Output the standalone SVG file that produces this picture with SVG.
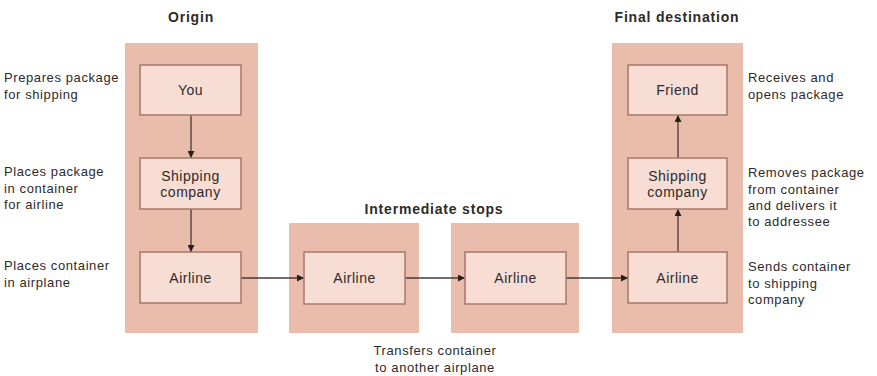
<svg xmlns="http://www.w3.org/2000/svg" width="877" height="376" viewBox="0 0 877 376">
<style>
.panel{fill:#eabcab}
.box{fill:#f7ddd3;stroke:#a87868;stroke-width:1.5}
.t{font-family:"Liberation Sans",Arial,sans-serif;fill:#2e2a2a}
.title{font-size:14px;font-weight:bold;text-anchor:middle;letter-spacing:0.8px}
.lbl{font-size:14px;text-anchor:middle;letter-spacing:0.5px}
.note{font-size:13px;letter-spacing:0.6px}
.c{stroke:#4a3a36;stroke-width:1.3;fill:none;marker-end:url(#ah)}
</style>
<defs>
<marker id="ah" viewBox="0 0 10 10" refX="10" refY="5" markerWidth="7" markerHeight="7" orient="auto" markerUnits="userSpaceOnUse">
<path d="M0,0 L10,5 L0,10 z" fill="#2a1e1c"/>
</marker>
</defs>
<rect width="877" height="376" fill="#fff"/>
<g id="panels">
<rect class="panel" x="125" y="43" width="133" height="290"/>
<rect class="panel" x="289" y="223" width="130" height="110"/>
<rect class="panel" x="451" y="223" width="128" height="110"/>
<rect class="panel" x="612" y="43" width="131" height="290"/>
</g>
<g id="titles">
<text class="t title" x="191" y="22">Origin</text>
<text class="t title" x="434" y="214">Intermediate stops</text>
<text class="t title" x="677" y="22">Final destination</text>
</g>
<g id="connectors">
<line class="c" x1="191" y1="115" x2="191" y2="158"/>
<line class="c" x1="191" y1="209" x2="191" y2="252"/>
<line class="c" x1="241" y1="278" x2="304" y2="278"/>
<line class="c" x1="405" y1="278" x2="465" y2="278"/>
<line class="c" x1="566" y1="278" x2="628" y2="278"/>
<line class="c" x1="678" y1="252" x2="678" y2="209"/>
<line class="c" x1="678" y1="158" x2="678" y2="115"/>
</g>
<g id="you"><rect class="box" x="140" y="65" width="101" height="50"/><text class="t lbl" x="190.5" y="95">You</text></g>
<g id="shipping1"><rect class="box" x="140" y="158" width="101" height="51"/><text class="t lbl" x="190.5" y="181">Shipping</text><text class="t lbl" x="190.5" y="197">company</text></g>
<g id="airline1"><rect class="box" x="140" y="252" width="101" height="51"/><text class="t lbl" x="190.5" y="283">Airline</text></g>
<g id="airline2"><rect class="box" x="304" y="252" width="101" height="52"/><text class="t lbl" x="354.5" y="283">Airline</text></g>
<g id="airline3"><rect class="box" x="465" y="252" width="101" height="52"/><text class="t lbl" x="515.5" y="283">Airline</text></g>
<g id="airline4"><rect class="box" x="628" y="252" width="99" height="51"/><text class="t lbl" x="677.5" y="283">Airline</text></g>
<g id="shipping2"><rect class="box" x="628" y="158" width="99" height="51"/><text class="t lbl" x="677.5" y="181">Shipping</text><text class="t lbl" x="677.5" y="197">company</text></g>
<g id="friend"><rect class="box" x="628" y="65" width="99" height="50"/><text class="t lbl" x="677.5" y="95">Friend</text></g>
<g id="notes">
<text class="t note" x="4" y="82">Prepares package</text><text class="t note" x="4" y="99">for shipping</text>
<text class="t note" x="4" y="176">Places package</text><text class="t note" x="4" y="193">in container</text><text class="t note" x="4" y="209">for airline</text>
<text class="t note" x="4" y="270">Places container</text><text class="t note" x="4" y="287">in airplane</text>
<text class="t note" x="748" y="82">Receives and</text><text class="t note" x="748" y="99">opens package</text>
<text class="t note" x="748" y="177">Removes package</text><text class="t note" x="748" y="194">from container</text><text class="t note" x="748" y="210">and delivers it</text><text class="t note" x="748" y="226">to addressee</text>
<text class="t note" x="748" y="271">Sends container</text><text class="t note" x="748" y="288">to shipping</text><text class="t note" x="748" y="304">company</text>
<text class="t note" x="435" y="355" text-anchor="middle">Transfers container</text><text class="t note" x="435" y="372" text-anchor="middle">to another airplane</text>
</g>
</svg>
